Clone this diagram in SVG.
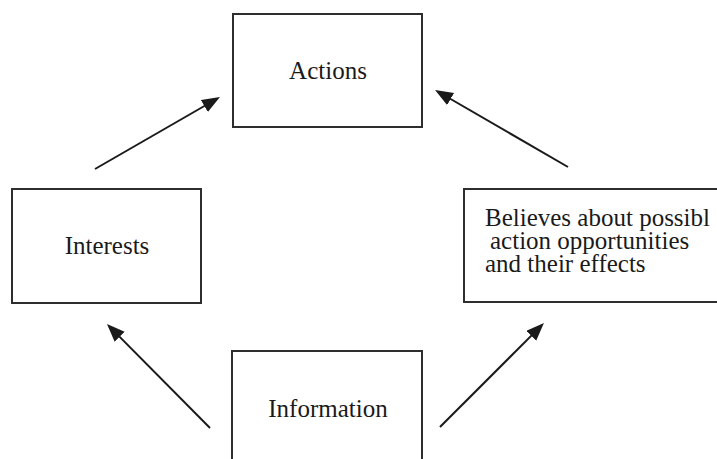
<svg xmlns="http://www.w3.org/2000/svg" width="717" height="459" viewBox="0 0 717 459">
  <style>
    .box { fill: #ffffff; stroke: #2e2e2e; stroke-width: 2; }
    .lbl { font-family: "Liberation Serif", "Times New Roman", serif; font-size: 25px; fill: #1a1a1a; }
    .conn { stroke: #1a1a1a; stroke-width: 2; fill: none; marker-end: url(#ah); }
  </style>
  <defs>
    <marker id="ah" markerUnits="userSpaceOnUse" markerWidth="20" markerHeight="16" refX="8" refY="7" orient="auto">
      <path d="M0,0 L18,7 L0,14 z" fill="#1a1a1a"/>
    </marker>
  </defs>
  <rect width="717" height="459" fill="#ffffff"/>
  <g id="node-actions">
    <rect class="box" x="233" y="14" width="189" height="113"/>
    <text class="lbl" x="328" y="79" text-anchor="middle">Actions</text>
  </g>
  <g id="node-interests">
    <rect class="box" x="12" y="189" width="189" height="114"/>
    <text class="lbl" x="107" y="254" text-anchor="middle">Interests</text>
  </g>
  <g id="node-believes">
    <rect class="box" x="464" y="189" width="270" height="113"/>
    <text class="lbl"><tspan x="485" y="226">Believes about possibl</tspan><tspan x="490" y="249">action opportunities</tspan><tspan x="485" y="272">and their effects</tspan></text>
  </g>
  <g id="node-information">
    <rect class="box" x="232" y="351" width="190" height="120"/>
    <text class="lbl" x="328" y="417" text-anchor="middle">Information</text>
  </g>
  <g id="connectors">
    <line class="conn" x1="95" y1="169" x2="211.3" y2="102"/>
    <line class="conn" x1="568" y1="167" x2="443.7" y2="95"/>
    <line class="conn" x1="210" y1="428" x2="114" y2="331.1"/>
    <line class="conn" x1="440" y1="427" x2="536.9" y2="330.1"/>
  </g>
</svg>
